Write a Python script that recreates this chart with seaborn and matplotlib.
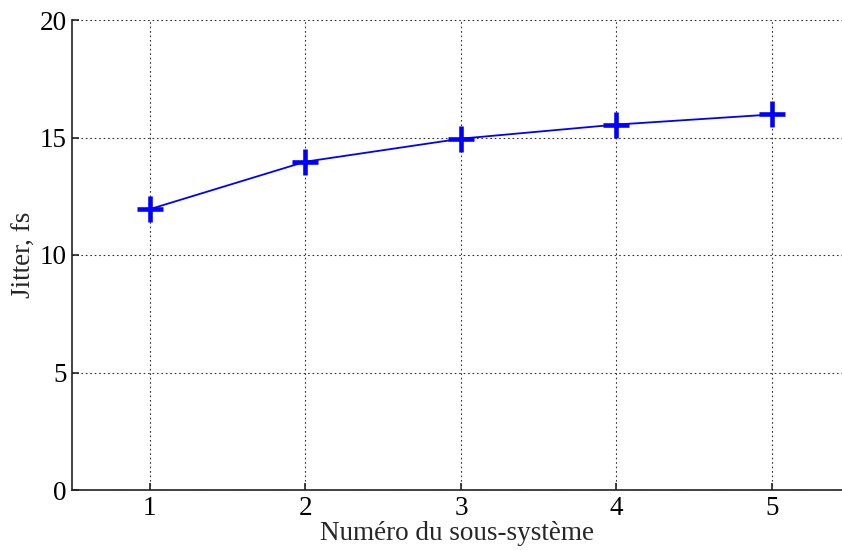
import matplotlib
matplotlib.use("Agg")
import matplotlib.pyplot as plt
import seaborn as sns
import pandas as pd

subsystems = [1, 2, 3, 4, 5]
jitter_fs = [11.95, 13.97, 14.95, 15.55, 15.98]
x_ticks = [1, 2, 3, 4, 5]
y_ticks = [0, 5, 10, 15, 20]

sns.set_theme(style="white")
plt.rcParams['font.family'] = ['Liberation Serif', 'DejaVu Serif']

df = pd.DataFrame({"x": subsystems, "y": jitter_fs})

fig = plt.figure(figsize=(8.42, 5.5), dpi=100)
ax = fig.add_axes([72/842, 60/550, 1 - 72/842, 470/550])
sns.lineplot(data=df, x="x", y="y", ax=ax, color="#0000ff", linewidth=1.3,
             marker="+", markersize=19, markeredgewidth=3.3, markeredgecolor="#0000ff")

ax.set_xlim(0.5, 5.45)
ax.set_ylim(0, 20)
ax.set_xticks(x_ticks)
ax.set_yticks(y_ticks)
ax.grid(True, linestyle=(0, (1.5, 2.5)), color="#333333", linewidth=0.8)
for s in ["top", "right"]:
    ax.spines[s].set_visible(False)
for s in ["left", "bottom"]:
    ax.spines[s].set_color("#222222")
    ax.spines[s].set_linewidth(1.2)
ax.tick_params(direction="in", length=5, width=1.2, labelsize=19.5, colors="#222222",
               labelcolor="black", left=True, bottom=True, pad=4)
ax.set_xlabel("Numéro du sous-système", fontsize=19.5, labelpad=0)
ax.set_ylabel("Jitter, fs", fontsize=19.5, labelpad=2)
ax.set_facecolor("white")

fig.savefig("out.png", dpi=100, facecolor="white")
